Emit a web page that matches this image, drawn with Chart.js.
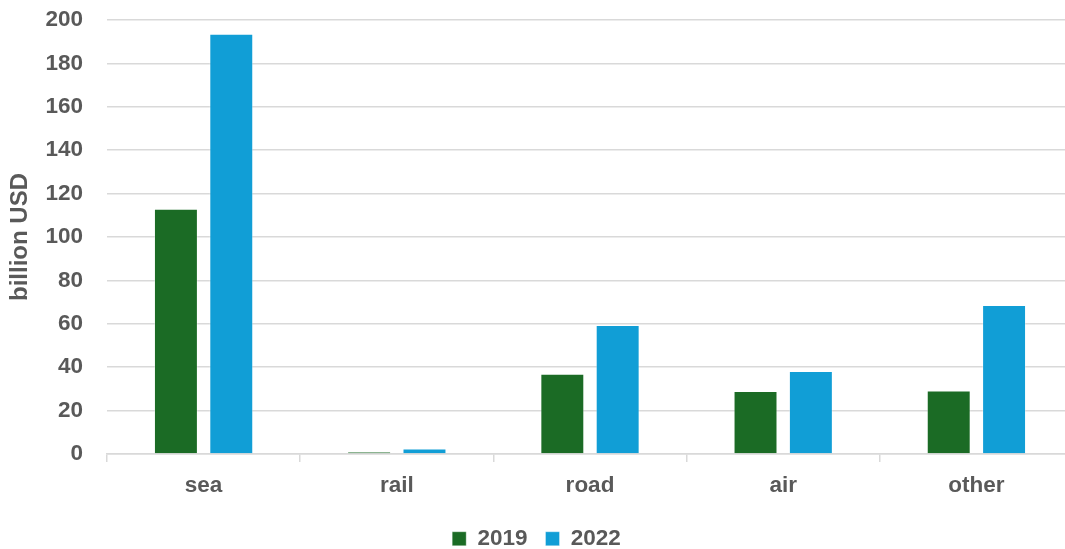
<!DOCTYPE html>
<html>
<head>
<meta charset="utf-8">
<script src="https://cdn.jsdelivr.net/npm/chart.js@4/dist/chart.umd.min.js"></script>
<style>
  html, body { margin: 0; padding: 0; overflow: hidden; background: #fff; }
  #wrap { width: 1073px; height: 560px; position: relative; }
</style>
</head>
<body>
<div id="wrap"><canvas id="chart"></canvas></div>
<script>
var categories = ['sea', 'rail', 'road', 'air', 'other'];
var values2019 = [113, 1.1, 37, 29, 29.3];
var values2022 = [193.7, 2.5, 59.4, 38.2, 68.7];
var yTicks = [0, 20, 40, 60, 80, 100, 120, 140, 160, 180, 200];

var textColor = '#595959';
var gridColor = '#d9d9d9';
var font = { family: "'Liberation Sans', Arial, sans-serif", size: 22.5, weight: 'bold' };
var titleFont = { family: "'Liberation Sans', Arial, sans-serif", size: 24, weight: 'bold' };

function createChart(elementId) {
    var ctx = document.getElementById(elementId).getContext('2d');
    var myChart = new Chart(ctx, {
        type: 'bar',
        data: {
            labels: categories,
            datasets: [{
                label: '2019',
                data: values2019,
                backgroundColor: '#1b6b25',
                borderColor: 'rgba(255,255,255,0.35)',
                borderWidth: 1,
                categoryPercentage: 0.573,
                barPercentage: 0.794
            }, {
                label: '2022',
                data: values2022,
                backgroundColor: '#119ed6',
                borderColor: 'rgba(255,255,255,0.35)',
                borderWidth: 1,
                categoryPercentage: 0.573,
                barPercentage: 0.794
            }]
        },
        options: {
            responsive: true,
            maintainAspectRatio: false,
            animation: false,
            layout: { padding: { top: 20, right: 0, bottom: 0, left: 0 } },
            plugins: {
                tooltip: { enabled: false },
                legend: {
                    position: 'bottom',
                    labels: {
                        color: textColor,
                        font: font,
                        boxWidth: 14,
                        boxHeight: 14,
                        padding: 18
                    }
                }
            },
            scales: {
                x: {
                    grid: {
                        display: true,
                        drawOnChartArea: false,
                        drawTicks: true,
                        tickLength: 8,
                        color: gridColor,
                        lineWidth: 1.5
                    },
                    border: { color: gridColor, width: 1.5 },
                    ticks: { color: textColor, font: font, padding: 10 },
                    afterFit: function (scale) { scale.height = 55.5; }
                },
                y: {
                    min: 0,
                    max: 200,
                    afterBuildTicks: function (scale) {
                        scale.ticks = yTicks.map(function (v) { return { value: v }; });
                    },
                    grid: {
                        color: gridColor,
                        lineWidth: 1.5,
                        drawTicks: true,
                        tickLength: 20,
                        tickColor: 'rgba(0,0,0,0)'
                    },
                    border: { display: false },
                    ticks: { color: textColor, font: font, padding: 4 },
                    title: {
                        display: true,
                        text: 'billion USD',
                        color: textColor,
                        font: titleFont,
                        padding: { top: 6, bottom: 0 }
                    },
                    afterFit: function (scale) { scale.width = 107; }
                }
            }
        }
    });

    return myChart;
}

createChart('chart');
</script>
</body>
</html>
